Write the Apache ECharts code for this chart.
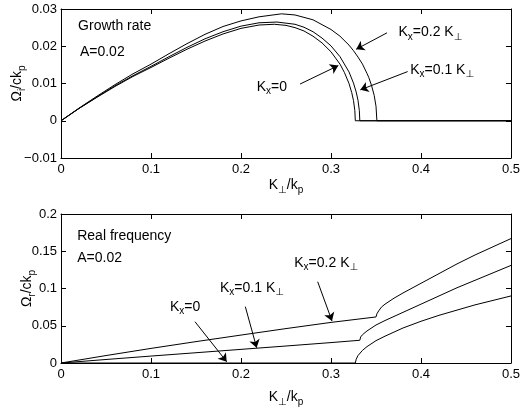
<!DOCTYPE html>
<html>
<head>
<meta charset="utf-8">
<script src="https://cdn.jsdelivr.net/npm/echarts@6/dist/echarts.min.js"></script>
<style>
  html, body { margin: 0; padding: 0; background: #fff; }
  #chart { width: 522px; height: 410px; }
</style>
</head>
<body>
<div id="chart"></div>
<script>
// growth rate, Omega_i/ck_p vs K_perp/k_p
var kGr0 = [0, 0.02, 0.04, 0.06, 0.08, 0.10, 0.12, 0.14, 0.16, 0.18, 0.20, 0.22, 0.237, 0.25, 0.26, 0.27, 0.28, 0.29, 0.30, 0.31, 0.315, 0.32, 0.323, 0.325, 0.3265, 0.327, 0.5]
var gr0 = [0, 0.0033, 0.0063, 0.0092, 0.0119, 0.0143, 0.0168, 0.0192, 0.0214, 0.0233, 0.0248, 0.0257, 0.0259, 0.0256, 0.0250, 0.0241, 0.0227, 0.0209, 0.0185, 0.0152, 0.0129, 0.0100, 0.0076, 0.0054, 0.0027, 0, 0]
var kGr1 = [0, 0.02, 0.04, 0.06, 0.08, 0.10, 0.12, 0.14, 0.16, 0.18, 0.20, 0.22, 0.24, 0.26, 0.27, 0.28, 0.29, 0.30, 0.31, 0.32, 0.325, 0.328, 0.330, 0.3315, 0.332, 0.5]
var gr1 = [0, 0.0033, 0.0064, 0.0094, 0.0121, 0.0146, 0.0172, 0.0197, 0.0220, 0.0239, 0.0254, 0.0263, 0.0265, 0.0259, 0.0251, 0.0239, 0.0222, 0.0201, 0.0172, 0.0131, 0.0101, 0.0077, 0.0055, 0.0027, 0, 0]
var kGr2 = [0, 0.02, 0.04, 0.06, 0.08, 0.10, 0.12, 0.14, 0.16, 0.18, 0.20, 0.22, 0.245, 0.26, 0.28, 0.30, 0.31, 0.32, 0.325, 0.33, 0.335, 0.34, 0.342, 0.345, 0.348, 0.35, 0.351, 0.5]
var gr2 = [0, 0.0034, 0.0066, 0.0097, 0.0126, 0.0152, 0.0180, 0.0207, 0.0232, 0.0253, 0.0268, 0.0279, 0.0287, 0.0284, 0.0271, 0.0245, 0.0227, 0.0203, 0.0188, 0.0171, 0.0152, 0.0127, 0.0116, 0.0095, 0.0068, 0.0039, 0, 0]

// real frequency, Omega_r/ck_p
var kRe0 = [0, 0.327, 0.328, 0.33, 0.335, 0.34, 0.35, 0.36, 0.38, 0.40, 0.42, 0.44, 0.46, 0.48, 0.50]
var re0 = [0, 0, 0.005, 0.010, 0.017, 0.022, 0.030, 0.036, 0.047, 0.056, 0.064, 0.071, 0.078, 0.084, 0.090]
var kRe1 = [0, 0.05, 0.10, 0.15, 0.20, 0.25, 0.30, 0.332, 0.333, 0.335, 0.34, 0.35, 0.36, 0.38, 0.40, 0.42, 0.44, 0.46, 0.48, 0.50]
var re1 = [0, 0.0047, 0.0093, 0.0138, 0.0183, 0.0228, 0.0274, 0.0305, 0.035, 0.038, 0.043, 0.051, 0.057, 0.068, 0.079, 0.090, 0.101, 0.111, 0.121, 0.131]
var kRe2 = [0, 0.05, 0.10, 0.15, 0.20, 0.25, 0.30, 0.35, 0.351, 0.353, 0.356, 0.36, 0.37, 0.38, 0.40, 0.42, 0.44, 0.46, 0.48, 0.50]
var re2 = [0, 0.0100, 0.0196, 0.0287, 0.0375, 0.0462, 0.0545, 0.0618, 0.066, 0.070, 0.075, 0.079, 0.087, 0.094, 0.107, 0.120, 0.133, 0.145, 0.156, 0.167]

// tick labels / ranges
var xTicks = [0, 0.1, 0.2, 0.3, 0.4, 0.5]
var grTicks = [-0.01, 0, 0.01, 0.02, 0.03]
var reTicks = [0, 0.05, 0.1, 0.15, 0.2]

// annotations (text, anchor in data units) and arrows (from -> to)
var topNotes = [
  ['Growth rate', 0.019, 0.0254],
  ['A=0.02', 0.021, 0.0183],
  ['K{s|x}=0.2 K{s|⊥}', 0.375, 0.0237],
  ['K{s|x}=0.1 K{s|⊥}', 0.388, 0.0136],
  ['K{s|x}=0', 0.2174, 0.0091]
]
var topArrows = [
  [[0.3622, 0.0236], [0.328, 0.0192]],
  [[0.3852, 0.0132], [0.3326, 0.0083]],
  [[0.2656, 0.00985], [0.3081, 0.0148]]
]
var botNotes = [
  ['Real frequency', 0.018, 0.1705],
  ['A=0.02', 0.018, 0.141],
  ['K{s|x}=0.2 K{s|⊥}', 0.2592, 0.1342],
  ['K{s|x}=0.1 K{s|⊥}', 0.1767, 0.1007],
  ['K{s|x}=0', 0.1211, 0.0756]
]
var botArrows = [
  [[0.2852, 0.1091], [0.3011, 0.0565]],
  [[0.2048, 0.0756], [0.2174, 0.0205]],
  [[0.1489, 0.0554], [0.1841, 0.0017]]
]

var FONT = 'Liberation Sans, Arial, DejaVu Sans, sans-serif'
var rich = {
  s: { fontSize: 10, fontFamily: FONT, color: '#000', padding: [9, 0, 0, 0] }
}

function zip(xs, ys) {
  return xs.map(function (x, i) { return [x, ys[i]] })
}
function fmt(v) {
  if (Math.abs(v) < 1e-9) return '0'
  return String(+v.toFixed(3)).replace('-', '\u2212')
}

function lineSeries(xs, ys, idx, extra) {
  var s = {
    type: 'line',
    xAxisIndex: idx * 2,
    yAxisIndex: idx * 2,
    data: zip(xs, ys),
    showSymbol: false,
    silent: true,
    lineStyle: { color: '#000', width: 1 },
    itemStyle: { color: '#000' }
  }
  if (extra) {
    s.markLine = {
      silent: true,
      symbol: ['none', 'arrow'],
      symbolSize: 8,
      lineStyle: { color: '#000', width: 1, type: 'solid' },
      label: { show: false },
      data: extra.arrows.map(function (a) {
        return [{ coord: a[0] }, { coord: a[1] }]
      })
    }
    s.markPoint = {
      silent: true,
      symbol: 'circle',
      symbolSize: 0,
      itemStyle: { color: 'rgba(0,0,0,0)' },
      label: {
        show: true,
        position: 'right',
        distance: 0,
        color: '#000',
        fontSize: 14,
        fontFamily: FONT,
        rich: rich,
        formatter: function (p) { return p.name }
      },
      data: extra.notes.map(function (n) {
        return { name: n[0], coord: [n[1], n[2]] }
      })
    }
  }
  return s
}

function xAxes(gridIndex, gap) {
  var base = {
    gridIndex: gridIndex,
    type: 'value',
    min: xTicks[0],
    max: xTicks[xTicks.length - 1],
    interval: 0.1,
    axisLine: { show: true, onZero: false, lineStyle: { color: '#000', width: 1 } },
    axisTick: { show: true, inside: true, length: 5, lineStyle: { color: '#000' } },
    splitLine: { show: false }
  }
  var bottom = Object.assign({}, base, {
    position: 'bottom',
    axisLabel: { color: '#000', fontSize: 13, fontFamily: FONT, margin: 5, formatter: fmt },
    name: 'K{s|⊥}/k{s|p}',
    nameLocation: 'middle',
    nameGap: gap,
    nameMoveOverlap: false,
    nameTextStyle: { color: '#000', fontSize: 14, fontFamily: FONT, rich: rich }
  })
  var top = Object.assign({}, base, { position: 'top', axisLabel: { show: false } })
  return [bottom, top]
}

function yAxes(gridIndex, ticks, interval, sub, gap) {
  var base = {
    gridIndex: gridIndex,
    type: 'value',
    min: ticks[0],
    max: ticks[ticks.length - 1],
    interval: interval,
    axisLine: { show: true, onZero: false, lineStyle: { color: '#000', width: 1 } },
    axisTick: { show: true, inside: true, length: 5, lineStyle: { color: '#000' } },
    splitLine: { show: false }
  }
  var left = Object.assign({}, base, {
    position: 'left',
    axisLabel: { color: '#000', fontSize: 13, fontFamily: FONT, margin: 4, formatter: fmt },
    name: 'Ω{s|' + sub + '}/ck{s|p}',
    nameLocation: 'middle',
    nameRotate: 90,
    nameGap: gap,
    nameMoveOverlap: false,
    nameTextStyle: { color: '#000', fontSize: 14, fontFamily: FONT, rich: rich }
  })
  var right = Object.assign({}, base, { position: 'right', axisLabel: { show: false } })
  return [left, right]
}

var chart = echarts.init(document.getElementById('chart'), null, { renderer: 'canvas' })
var option = {
  animation: false,
  backgroundColor: '#fff',
  grid: [
    { left: 61, right: 11, top: 9, height: 149, containLabel: false, outerBoundsMode: 'none' },
    { left: 61, right: 11, top: 214, height: 149, containLabel: false, outerBoundsMode: 'none' }
  ],
  xAxis: xAxes(0, 18).concat(xAxes(1, 25)),
  yAxis: yAxes(0, grTicks, 0.01, 'i', 34).concat(yAxes(1, reTicks, 0.05, 'r', 24)),
  series: [
    lineSeries(kGr0, gr0, 0, { notes: topNotes, arrows: topArrows }),
    lineSeries(kGr1, gr1, 0),
    lineSeries(kGr2, gr2, 0),
    lineSeries(kRe0, re0, 1, { notes: botNotes, arrows: botArrows }),
    lineSeries(kRe1, re1, 1),
    lineSeries(kRe2, re2, 1)
  ]
}
chart.setOption(option)
</script>
</body>
</html>
